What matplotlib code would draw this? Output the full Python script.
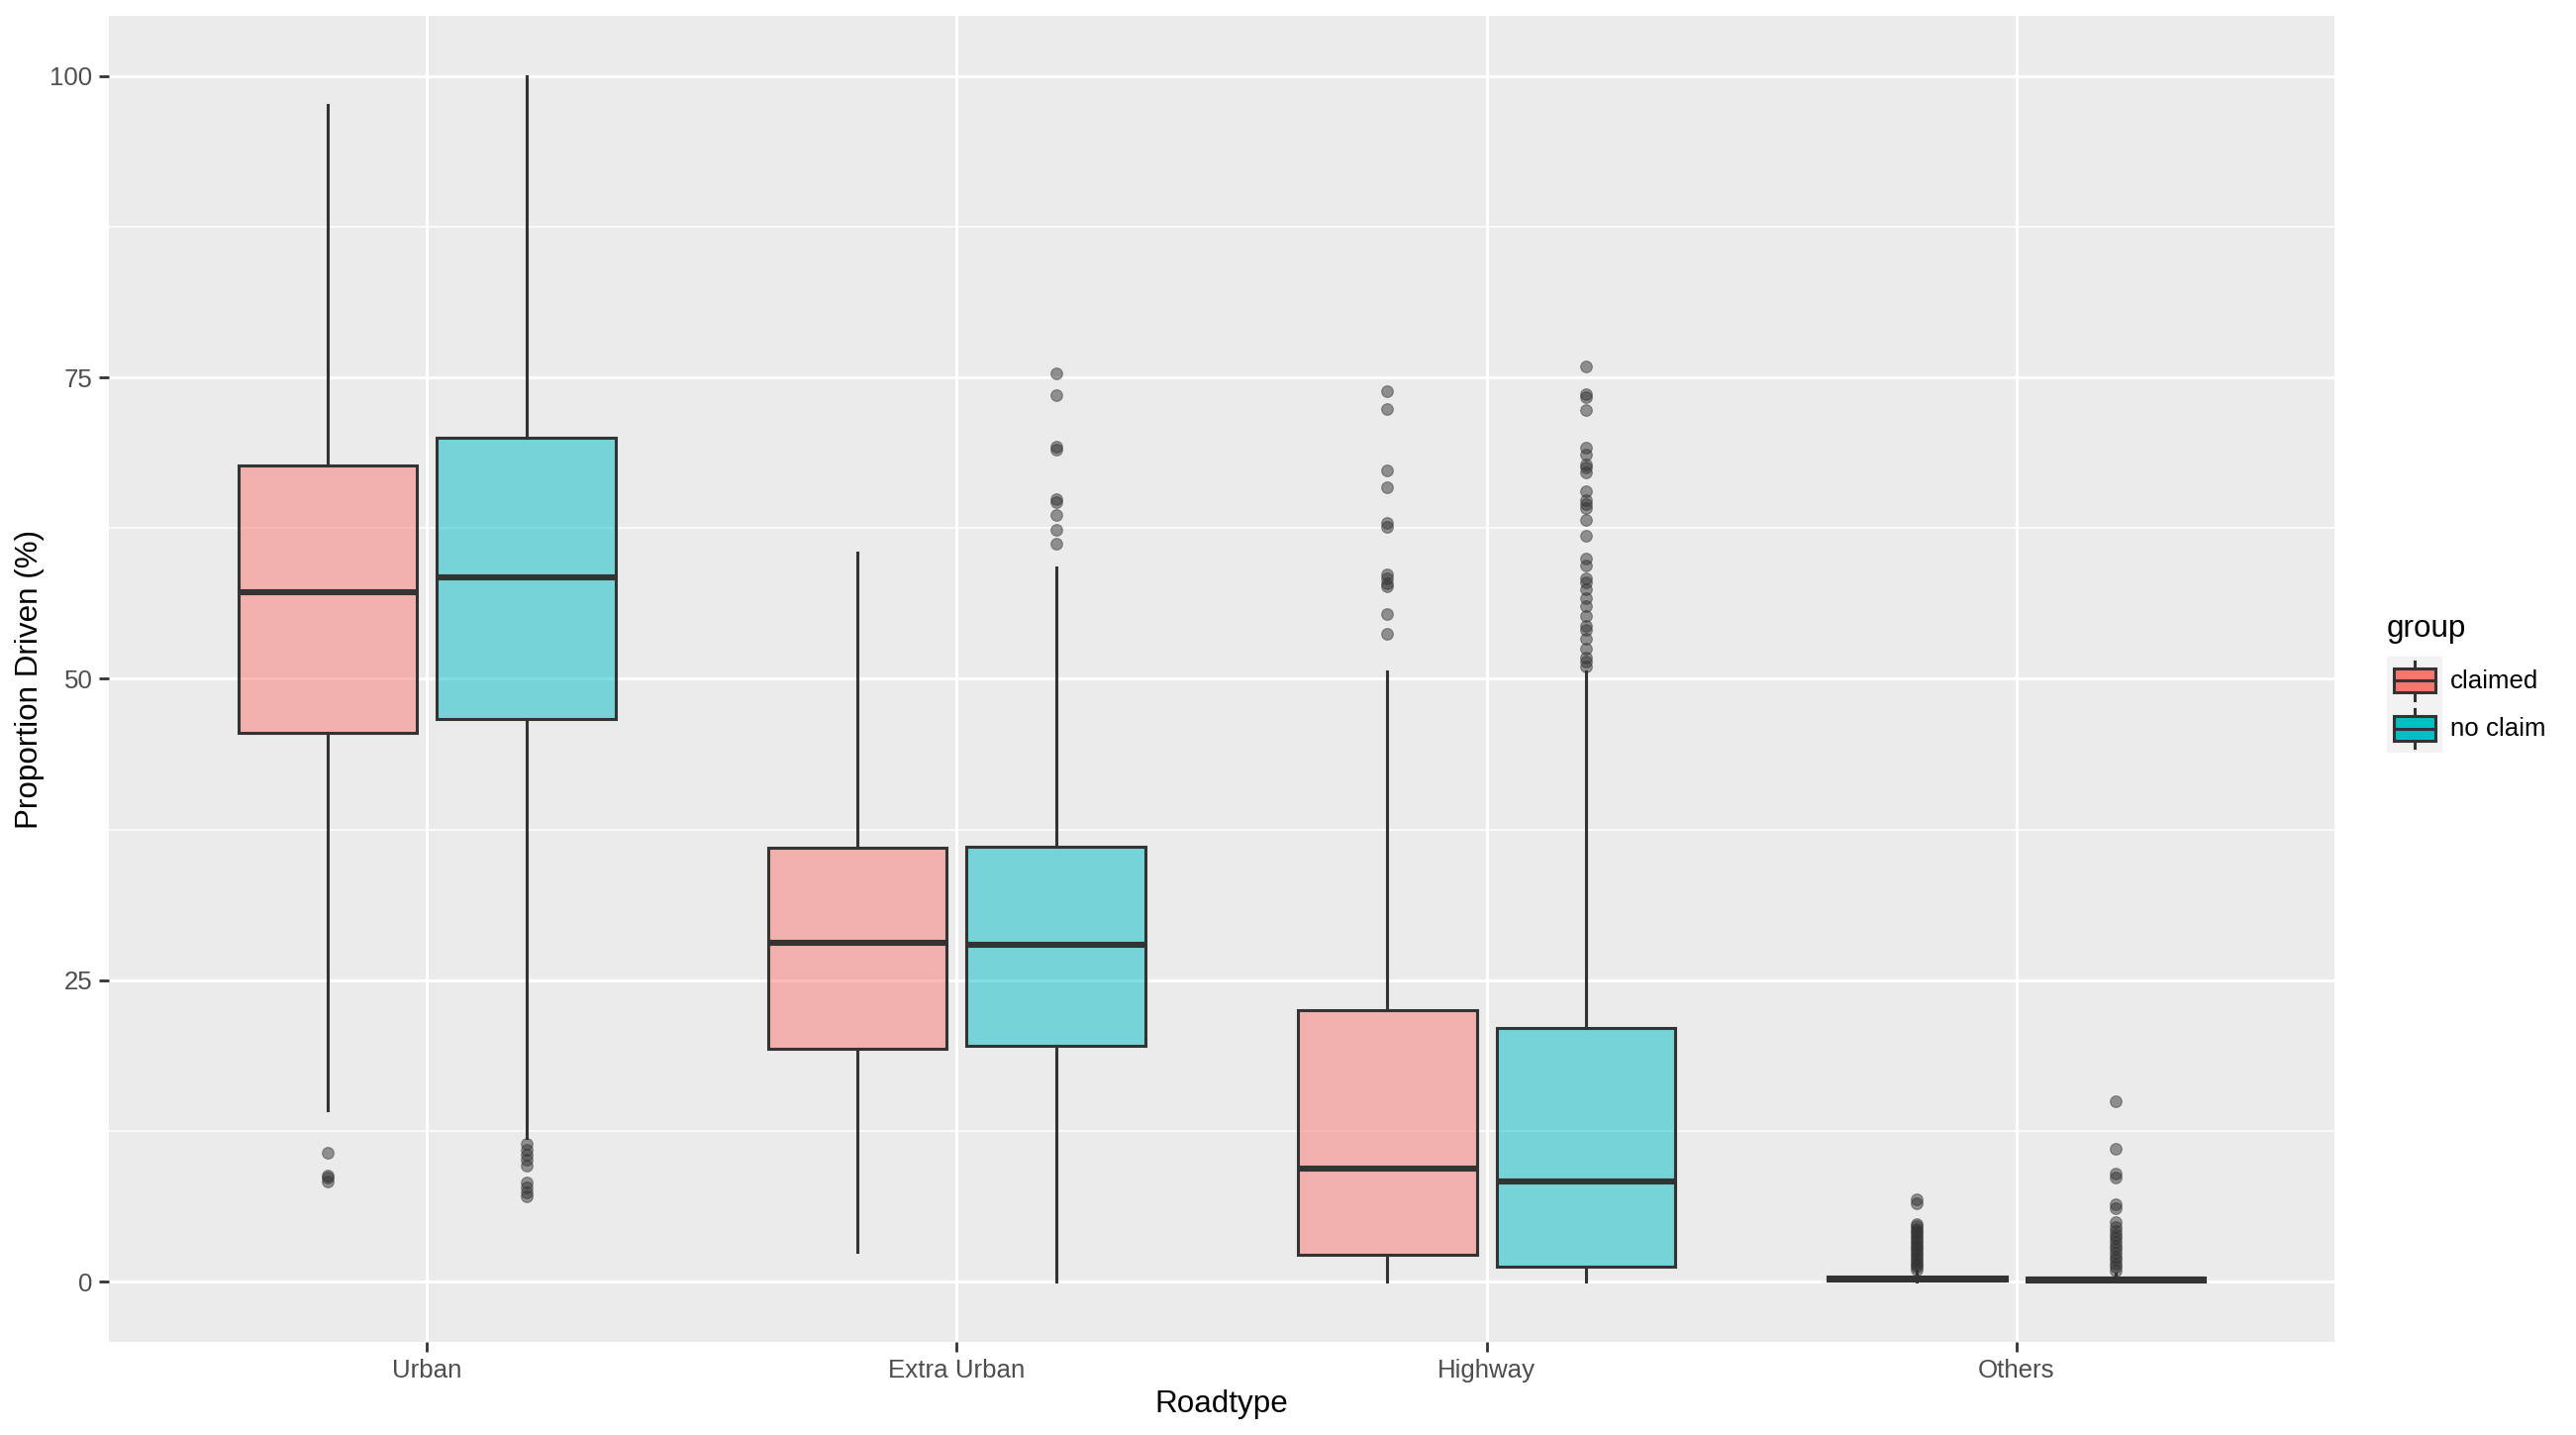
import matplotlib
matplotlib.use("Agg")
import matplotlib.pyplot as plt
from matplotlib.patches import Patch, Rectangle
from matplotlib.lines import Line2D
from matplotlib.legend_handler import HandlerBase

plt.rcParams["font.family"] = ["Liberation Sans", "DejaVu Sans"]

roadtypes = ["Urban", "Extra Urban", "Highway", "Others"]
groups = ["claimed", "no claim"]

# box statistics (percent driven)
claimed_whislo = [14.2, 2.5, 0.0, 0.0]
claimed_q1 = [45.5, 19.3, 2.2, 0.05]
claimed_med = [57.2, 28.1, 9.4, 0.2]
claimed_q3 = [67.7, 36.0, 22.5, 0.45]
claimed_whishi = [97.6, 60.5, 50.6, 0.9]

noclaim_whislo = [11.9, 0.0, 0.0, 0.0]
noclaim_q1 = [46.7, 19.6, 1.2, 0.0]
noclaim_med = [58.4, 27.9, 8.3, 0.15]
noclaim_q3 = [70.0, 36.1, 21.0, 0.35]
noclaim_whishi = [100.0, 59.2, 50.6, 0.7]

claimed_fliers = [
    [10.7, 8.8, 8.6, 8.3],
    [],
    [73.9, 72.4, 67.3, 65.9, 62.9, 62.6, 58.7, 58.3, 57.9, 57.7, 55.4, 53.7],
    [6.8, 6.5, 4.8, 4.6, 4.4, 4.2, 4.0, 3.8, 3.6, 3.4, 3.2, 3.0, 2.8, 2.6,
     2.4, 2.2, 2.0, 1.8, 1.6, 1.4, 1.2, 1.0],
]
noclaim_fliers = [
    [11.4, 10.9, 10.5, 10.1, 9.6, 8.2, 7.8, 7.4, 7.1],
    [75.3, 73.5, 69.3, 69.0, 64.9, 64.7, 63.6, 62.4, 61.2],
    [75.9, 73.6, 73.4, 72.3, 69.2, 68.6, 67.8, 67.5, 67.1, 65.6, 64.8, 64.5,
     64.2, 63.2, 61.9, 60.0, 59.4, 58.3, 58.0, 57.4, 56.7, 56.0, 55.2, 54.4,
     54.1, 53.3, 52.5, 51.8, 51.4, 51.0],
    [15.0, 11.0, 9.0, 8.6, 6.4, 6.1, 4.9, 4.5, 4.2, 3.9, 3.6, 3.3, 3.0, 2.7,
     2.4, 2.1, 1.8, 1.5, 1.2, 0.9],
]

colors = ["#F8766D", "#00BFC4"]
EDGE = "#333333"
PANEL = "#EBEBEB"
LW = 1.1


def make_stats(lo, q1, med, q3, hi, fliers):
    return [
        dict(whislo=lo[i], q1=q1[i], med=med[i], q3=q3[i], whishi=hi[i], fliers=fliers[i])
        for i in range(len(roadtypes))
    ]


class BoxKey(HandlerBase):
    def create_artists(self, legend, orig_handle, xdescent, ydescent, width, height, fontsize, trans):
        x0, y0 = -xdescent, -ydescent
        fill = orig_handle.get_facecolor()
        bg = Rectangle((x0, y0), width, height, fc="#F2F2F2", ec="none", transform=trans)
        box = Rectangle((x0 + 0.125 * width, y0 + 0.25 * height), 0.75 * width, 0.5 * height,
                        fc=fill, ec=EDGE, lw=LW, transform=trans)
        xm = x0 + 0.5 * width
        med = Line2D([x0 + 0.125 * width, x0 + 0.875 * width], [y0 + 0.5 * height] * 2,
                     color=EDGE, lw=LW, transform=trans)
        w1 = Line2D([xm, xm], [y0 + 0.1 * height, y0 + 0.25 * height], color=EDGE, lw=LW, transform=trans)
        w2 = Line2D([xm, xm], [y0 + 0.75 * height, y0 + 0.9 * height], color=EDGE, lw=LW, transform=trans)
        return [bg, box, med, w1, w2]


def main():
    fig = plt.figure(figsize=(13.01, 7.245), dpi=200)
    ax = fig.add_axes([0.0423, 0.0649, 0.8639, 0.9241])
    ax.set_facecolor(PANEL)

    stats = [
        make_stats(claimed_whislo, claimed_q1, claimed_med, claimed_q3, claimed_whishi, claimed_fliers),
        make_stats(noclaim_whislo, noclaim_q1, noclaim_med, noclaim_q3, noclaim_whishi, noclaim_fliers),
    ]
    offsets = [-0.1875, 0.1875]
    xs = list(range(1, len(roadtypes) + 1))
    for g in range(2):
        ax.bxp(
            stats[g],
            positions=[x + offsets[g] for x in xs],
            widths=0.3375,
            patch_artist=True,
            showcaps=False,
            boxprops=dict(facecolor=colors[g] + "80", edgecolor=EDGE, linewidth=LW),
            whiskerprops=dict(color=EDGE, linewidth=LW),
            medianprops=dict(color=EDGE, linewidth=2.2, solid_capstyle="butt"),
            flierprops=dict(marker="o", markersize=4.2, markerfacecolor=EDGE,
                            markeredgecolor=EDGE, markeredgewidth=0.4, alpha=0.5),
            zorder=3,
        )

    ax.set_xlim(0.4, 4.6)
    ax.set_ylim(-5, 105)
    ax.set_xticks(xs)
    ax.set_xticklabels(roadtypes)
    ax.set_yticks([0, 25, 50, 75, 100])
    ax.set_yticks([12.5, 37.5, 62.5, 87.5], minor=True)
    ax.grid(True, which="major", color="white", linewidth=1.1, zorder=0)
    ax.grid(True, which="minor", axis="y", color="white", linewidth=0.55, zorder=0)
    ax.set_axisbelow(True)
    for s in ax.spines.values():
        s.set_visible(False)
    ax.tick_params(axis="both", which="major", length=3.5, width=1.0, color="#333333",
                   labelcolor="#4D4D4D", labelsize=9.3, pad=2.5)
    ax.tick_params(axis="y", which="minor", length=0)
    ax.set_xlabel("Roadtype", fontsize=11.3, labelpad=2.5)
    ax.set_ylabel("Proportion Driven (%)", fontsize=11.3, labelpad=2)

    handles = [Patch(facecolor=c) for c in colors]
    leg = fig.legend(
        handles, groups,
        handler_map={Patch: BoxKey()},
        title="group",
        loc="center left",
        bbox_to_anchor=(0.9215, 0.524),
        frameon=False,
        fontsize=9.3,
        title_fontsize=11.3,
        handlelength=2.2,
        handleheight=2.5,
        handletextpad=0.3,
        labelspacing=0,
        borderpad=0,
        alignment="left",
    )
    # gap between the title and the keys, keys themselves stay adjacent
    leg._legend_box.sep = 4.8
    fig.savefig("out.png", dpi=200)


if __name__ == "__main__":
    main()
